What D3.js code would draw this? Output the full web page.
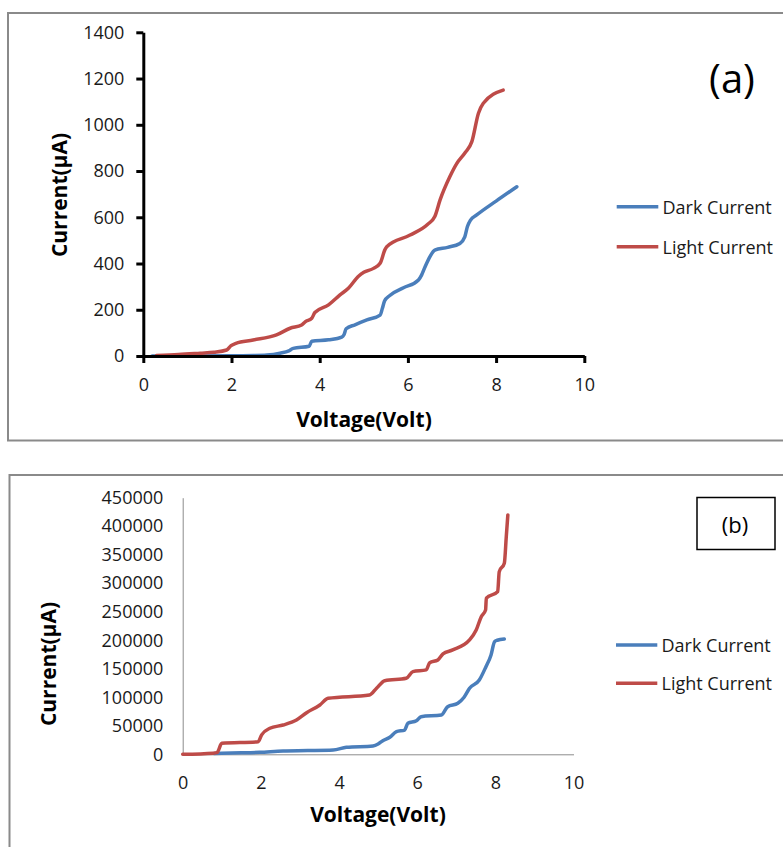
<!DOCTYPE html>
<html>
<head>
<meta charset="utf-8">
<script src="https://cdn.jsdelivr.net/npm/d3@7"></script>
<style>
  html, body { margin: 0; padding: 0; background: #fff; }
  svg { display: block; }
  text { font-family: "Open Sans", sans-serif; }
</style>
</head>
<body>
<svg id="chart" width="783" height="847"></svg>
<script>
// ---------- Data ----------
const seriesNames = ["Dark Current", "Light Current"];
const xTicks = [0, 2, 4, 6, 8, 10];
const yTicksA = [0, 200, 400, 600, 800, 1000, 1200, 1400];
const yTicksB = [0, 50000, 100000, 150000, 200000, 250000, 300000, 350000, 400000, 450000];

// Panel (a)
const darkA_V = [0.2, 1.0, 2.0, 2.5, 2.8, 3.1, 3.3, 3.4, 3.76, 3.82, 4.2, 4.5, 4.55, 4.6, 4.8, 5.07, 5.37, 5.42, 5.47, 5.59, 5.9, 6.24, 6.31, 6.39, 6.5, 6.61, 6.9, 7.18, 7.29, 7.35, 7.42, 7.56, 8.0, 8.47];
const darkA_I = [0, 0, 1, 2, 4, 12, 22, 33, 42, 64, 70, 82, 92, 118, 135, 156, 177, 205, 238, 262, 295, 329, 350, 386, 430, 458, 470, 487, 515, 560, 588, 610, 670, 732];
const lightA_V = [0.3, 0.8, 1.29, 1.6, 1.89, 1.99, 2.1, 2.49, 3.02, 3.33, 3.59, 3.67, 3.82, 3.89, 4.2, 4.46, 4.65, 4.88, 5.0, 5.22, 5.37, 5.48, 5.52, 6.05, 6.45, 6.61, 6.73, 6.95, 7.11, 7.3, 7.45, 7.6, 7.71, 8.16];
const lightA_I = [2, 6, 12, 16, 26, 45, 55, 69, 91, 120, 134, 148, 163, 188, 221, 264, 293, 345, 362, 379, 401, 460, 473, 523, 570, 603, 675, 775, 833, 880, 927, 1050, 1093, 1150];

// Panel (b)
const darkB_V = [0.8, 1.5, 1.97, 2.57, 3.2, 3.85, 4.19, 4.87, 5.0, 5.12, 5.3, 5.47, 5.68, 5.76, 5.98, 6.1, 6.62, 6.78, 7.04, 7.2, 7.34, 7.59, 7.76, 7.89, 7.98, 8.05, 8.23];
const darkB_I = [1500, 2500, 3500, 5800, 6500, 7500, 12300, 14600, 18000, 23900, 30000, 39700, 42600, 54400, 58900, 66000, 69000, 83500, 89500, 100000, 115800, 130300, 153700, 174200, 197500, 200000, 202300];
const lightB_V = [0, 0.78, 0.88, 1.0, 1.93, 2.02, 2.23, 2.57, 2.91, 3.17, 3.51, 3.72, 4.78, 4.96, 5.17, 5.72, 5.89, 6.23, 6.32, 6.53, 6.66, 6.91, 7.34, 7.51, 7.64, 7.75, 7.77, 8.06, 8.1, 8.23, 8.28, 8.32];
const lightB_I = [0, 2000, 3000, 19300, 22000, 34000, 45600, 51400, 60200, 73000, 86500, 98200, 104000, 115800, 129100, 133300, 145000, 148000, 160700, 165400, 176000, 183000, 200500, 218000, 241400, 253000, 273700, 285300, 320300, 335000, 381800, 419800];

const colors = ["#4A7EBB", "#BE4B48"];
const zip = (xs, ys) => xs.map((x, i) => ({ v: x, i: ys[i] }));

const svg = d3.select("#chart");

// ---------- Panel frames ----------
svg.append("rect").attr("x", 8).attr("y", 13).attr("width", 800).attr("height", 427.5)
  .attr("fill", "none").attr("stroke", "#8a8a8a").attr("stroke-width", 2);
svg.append("rect").attr("x", 9.5).attr("y", 475).attr("width", 800).attr("height", 400)
  .attr("fill", "none").attr("stroke", "#8a8a8a").attr("stroke-width", 2);

// ---------- Panel (a) ----------
{
  const x = d3.scaleLinear().domain([0, 10]).range([143.3, 584.3]);
  const y = d3.scaleLinear().domain([0, 1400]).range([356, 32.3]);
  const g = svg.append("g");

  const line = d3.line().x(d => x(d.v)).y(d => y(d.i)).curve(d3.curveMonotoneX);
  [zip(darkA_V, darkA_I), zip(lightA_V, lightA_I)].forEach((data, k) => {
    g.append("path").datum(data).attr("d", line)
      .attr("fill", "none").attr("stroke", colors[k]).attr("stroke-width", 3.5)
      .attr("stroke-linejoin", "round").attr("stroke-linecap", "round");
  });

  const ax = g.append("g").attr("transform", `translate(0,${y(0)})`)
    .call(d3.axisBottom(x).tickValues(xTicks).tickFormat(d3.format("d")).tickSize(7).tickSizeOuter(0).tickPadding(15));
  const ay = g.append("g").attr("transform", `translate(${x(0)},0)`)
    .call(d3.axisLeft(y).tickValues(yTicksA).tickFormat(d3.format("d")).tickSize(7).tickSizeOuter(0).tickPadding(12));
  [ax, ay].forEach(a => {
    a.select(".domain").attr("stroke", "#000").attr("stroke-width", 3);
    a.selectAll(".tick line").attr("stroke", "#000").attr("stroke-width", 3);
    a.selectAll("text").attr("font-size", 18).attr("fill", "#1a1a1a").attr("font-family", "Open Sans");
  });

  g.append("text").attr("x", 364).attr("y", 426.5).attr("text-anchor", "middle")
    .attr("font-size", 21).attr("font-weight", "bold").attr("fill", "#000").text("Voltage(Volt)");
  g.append("text").attr("transform", "translate(67,195) rotate(-90)").attr("text-anchor", "middle")
    .attr("font-size", 21).attr("font-weight", "bold").attr("fill", "#000").text("Current(μA)");

  // legend
  const ly = [206.7, 246.7];
  seriesNames.forEach((n, k) => {
    g.append("line").attr("x1", 616.7).attr("x2", 658.3).attr("y1", ly[k]).attr("y2", ly[k])
      .attr("stroke", colors[k]).attr("stroke-width", 3.5);
    g.append("text").attr("x", 662.5).attr("y", ly[k] + 7).attr("font-size", 18).attr("fill", "#1a1a1a").text(n);
  });

  g.append("text").attr("x", 732).attr("y", 93).attr("text-anchor", "middle")
    .attr("font-size", 40).attr("fill", "#000").text("(a)");
}

// ---------- Panel (b) ----------
{
  const x = d3.scaleLinear().domain([0, 10]).range([182.7, 573.5]);
  const y = d3.scaleLinear().domain([0, 450000]).range([754.3, 497.7]);
  const g = svg.append("g");

  const ax = g.append("g").attr("transform", `translate(0,${y(0)})`)
    .call(d3.axisBottom(x).tickValues(xTicks).tickFormat(d3.format("d")).tickSize(0).tickPadding(21.5));
  const ay = g.append("g").attr("transform", `translate(${x(0)},0)`)
    .call(d3.axisLeft(y).tickValues(yTicksB).tickFormat(d3.format("d")).tickSize(0).tickPadding(19.4));
  [ax, ay].forEach(a => {
    a.select(".domain").attr("stroke", "#8c8c8c").attr("stroke-width", 1);
    a.selectAll("text").attr("font-size", 18).attr("fill", "#1a1a1a").attr("font-family", "Open Sans");
  });

  const line = d3.line().x(d => x(d.v)).y(d => y(d.i)).curve(d3.curveMonotoneX);
  [zip(darkB_V, darkB_I), zip(lightB_V, lightB_I)].forEach((data, k) => {
    g.append("path").datum(data).attr("d", line)
      .attr("fill", "none").attr("stroke", colors[k]).attr("stroke-width", 3.5)
      .attr("stroke-linejoin", "round").attr("stroke-linecap", "round");
  });

  g.append("text").attr("x", 378).attr("y", 822).attr("text-anchor", "middle")
    .attr("font-size", 21).attr("font-weight", "bold").attr("fill", "#000").text("Voltage(Volt)");
  g.append("text").attr("transform", "translate(55.5,664) rotate(-90)").attr("text-anchor", "middle")
    .attr("font-size", 21).attr("font-weight", "bold").attr("fill", "#000").text("Current(μA)");

  const ly = [645, 683.3];
  seriesNames.forEach((n, k) => {
    g.append("line").attr("x1", 616).attr("x2", 657.3).attr("y1", ly[k]).attr("y2", ly[k])
      .attr("stroke", colors[k]).attr("stroke-width", 3.5);
    g.append("text").attr("x", 661.5).attr("y", ly[k] + 7).attr("font-size", 18).attr("fill", "#1a1a1a").text(n);
  });

  g.append("rect").attr("x", 697).attr("y", 497.5).attr("width", 78).attr("height", 52)
    .attr("fill", "#fff").attr("stroke", "#000").attr("stroke-width", 1.5);
  g.append("text").attr("x", 735).attr("y", 533).attr("text-anchor", "middle")
    .attr("font-size", 22).attr("fill", "#000").text("(b)");
}
</script>
</body>
</html>
